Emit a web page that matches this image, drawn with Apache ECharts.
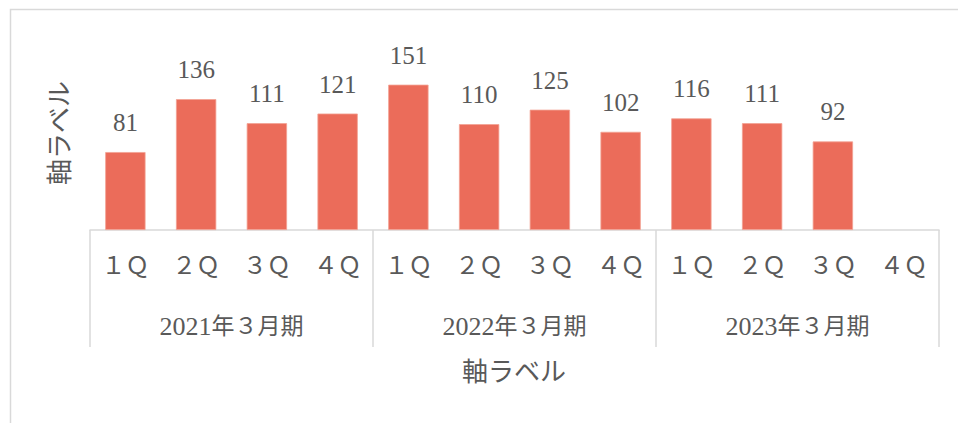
<!DOCTYPE html>
<html>
<head>
<meta charset="utf-8">
<script src="https://cdn.jsdelivr.net/npm/echarts@6/dist/echarts.min.js"></script>
<style>
html,body{margin:0;padding:0;background:#fff;}
#c{width:958px;height:423px;}
</style>
</head>
<body>
<div id="c"></div>
<script>
const quarters = ['１Ｑ','２Ｑ','３Ｑ','４Ｑ','１Ｑ','２Ｑ','３Ｑ','４Ｑ','１Ｑ','２Ｑ','３Ｑ','４Ｑ'];
const years = ['2021年３月期','2022年３月期','2023年３月期'];
const values = [81,136,111,121,151,110,125,102,116,111,92,null];
const axisTitle = '軸ラベル';

const FONT = '"Liberation Serif","Noto Sans CJK JP",serif';
const TXT = '#595959';
const LINE = '#D9D9D9';

const chart = echarts.init(document.getElementById('c'), null, {renderer:'svg'});
chart.setOption({
  animation:false,
  backgroundColor:'#fff',
  grid:{left:90,right:19,top:76,bottom:193,containLabel:false},
  xAxis:[
    {
      type:'category', data:quarters, position:'bottom',
      axisLine:{show:true,lineStyle:{color:LINE,width:1.5}},
      axisTick:{show:false},
      axisLabel:{color:TXT,fontFamily:FONT,fontSize:24,margin:24,interval:0}
    },
    {
      type:'category', data:years, position:'bottom', offset:0,
      axisLine:{show:false},
      axisTick:{show:true,length:117,lineStyle:{color:LINE,width:1.5}},
      axisLabel:{
        color:TXT,fontFamily:FONT,fontSize:24,margin:83,interval:0,
        formatter:function(v){
          const m = v.match(/^(\d+)(.*)$/);
          return m ? '{d|'+m[1]+'}{c|'+m[2]+'}' : v;
        },
        rich:{
          d:{fontFamily:FONT,fontSize:26,color:TXT},
          c:{fontFamily:FONT,fontSize:23,color:TXT}
        }
      }
    }
  ],
  yAxis:{type:'value',min:0,max:160,show:false,splitLine:{show:false}},
  series:[{
    type:'bar', xAxisIndex:0, data:values, barCategoryGap:'43%',
    itemStyle:{color:'#EB6C5A',borderColor:'#F3A293',borderWidth:0.8},
    label:{show:true,position:'top',distance:17,color:TXT,fontFamily:FONT,fontSize:25}
  }],
  graphic:[
    {type:'rect',left:8,top:7,shape:{width:1000,height:500},style:{fill:'none',stroke:LINE,lineWidth:1.5},silent:true,z:-1},
    {type:'text',x:60,y:133,rotation:Math.PI/2,style:{text:axisTitle,fill:TXT,font:'26px '+FONT,align:'center',verticalAlign:'middle'}},
    {type:'text',x:514,y:372,style:{text:axisTitle,fill:TXT,font:'26px '+FONT,align:'center',verticalAlign:'middle'}}
  ]
});
</script>
</body>
</html>
